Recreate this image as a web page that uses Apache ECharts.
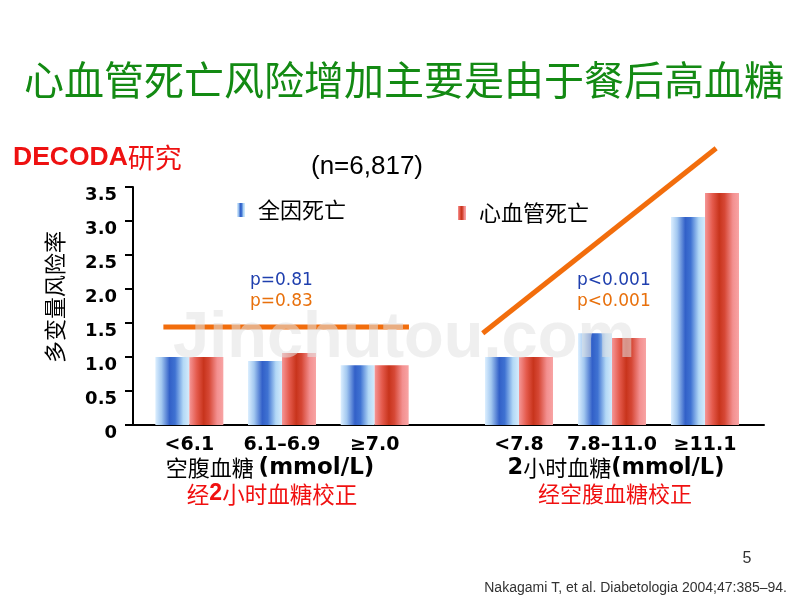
<!DOCTYPE html>
<html><head><meta charset="utf-8">
<script src="https://cdn.jsdelivr.net/npm/echarts@6/dist/echarts.min.js"></script>
<style>html,body{margin:0;padding:0;background:#fff}#c{width:800px;height:600px}</style>
</head><body><div id="c"></div>
<script>
// ---- data ----
const fastingCats = ['<6.1', '6.1–6.9', '≥7.0'];
const postloadCats = ['<7.8', '7.8–11.0', '≥11.1'];
const allCauseFasting = [1.0, 0.94, 0.88];
const cvdFasting = [1.0, 1.06, 0.88];
const allCausePostload = [1.0, 1.35, 3.06];
const cvdPostload = [1.0, 1.28, 3.41];
const yMin = 0, yMax = 3.5, yStep = 0.5;
// trend annotations, in category units (x) and hazard ratio (y)
const trendFasting = [[-0.28, 1.44], [2.37, 1.44]];
const trendPostload = [[-0.39, 1.35], [2.12, 4.07]];
const seriesNames = ['全因死亡', '心血管死亡'];

const chart = echarts.init(document.getElementById('c'), null, {renderer: 'canvas'});

const blueGrad = {type: 'linear', x: 0, y: 0, x2: 1, y2: 0, colorStops: [
  {offset: 0, color: '#dcefff'}, {offset: 0.18, color: '#a3c8f0'},
  {offset: 0.42, color: '#3260c8'}, {offset: 0.58, color: '#3f72d2'},
  {offset: 0.82, color: '#b2d8f6'}, {offset: 1, color: '#d4ebfb'}]};
const redGrad = {type: 'linear', x: 0, y: 0, x2: 1, y2: 0, colorStops: [
  {offset: 0, color: '#f59696'}, {offset: 0.22, color: '#e45a4c'},
  {offset: 0.42, color: '#c8341c'}, {offset: 0.58, color: '#d64836'},
  {offset: 0.82, color: '#f39090'}, {offset: 1, color: '#f8a4a4'}]};
const orange = '#f26d0c';

const catLabel = {fontSize: 19, fontWeight: 'bold', fontFamily: 'DejaVu Sans', color: '#000', margin: 11, interval: 0};
const hiddenY = (g) => ({gridIndex: g, type: 'value', min: yMin, max: yMax, interval: yStep, show: false});

function bar(name, data, xi, yi, color) {
  return {type: 'bar', name, data, xAxisIndex: xi, yAxisIndex: yi, barWidth: 34, barGap: '0%',
    itemStyle: {color}, emphasis: {disabled: true}};
}
function trend(data, xi, yi) {
  return {type: 'line', name: 'trend', data, xAxisIndex: xi, yAxisIndex: yi, showSymbol: false,
    symbol: 'none', clip: false, silent: true, z: 5,
    lineStyle: {color: orange, width: 5, cap: 'butt'}};
}
function txt(x, y, text, style, extra) {
  return Object.assign({type: 'text', x, y, silent: true,
    style: Object.assign({text, align: 'center', verticalAlign: 'middle', fill: '#000'}, style)}, extra || {});
}

const option = {
  animation: false,
  backgroundColor: '#fff',
  grid: [
    {left: 133, right: 36, top: 187, height: 238},
    {left: 143, width: 278, top: 187, height: 238},
    {left: 472.5, width: 279, top: 187, height: 238}
  ],
  xAxis: [
    {gridIndex: 0, type: 'category', data: [''], axisLine: {lineStyle: {color: '#000', width: 2}},
      axisTick: {show: false}, axisLabel: {show: false}},
    {gridIndex: 1, type: 'category', data: fastingCats, axisLine: {show: false}, axisTick: {show: false}, axisLabel: catLabel},
    {gridIndex: 1, type: 'value', min: -0.5, max: 2.5, show: false},
    {gridIndex: 2, type: 'category', data: postloadCats, axisLine: {show: false}, axisTick: {show: false}, axisLabel: catLabel},
    {gridIndex: 2, type: 'value', min: -0.5, max: 2.5, show: false}
  ],
  yAxis: [
    {gridIndex: 0, type: 'value', min: yMin, max: yMax, interval: yStep,
      axisLine: {show: true, lineStyle: {color: '#000', width: 2}},
      axisTick: {show: true, length: 8, lineStyle: {color: '#000', width: 2}},
      splitLine: {show: false},
      axisLabel: {fontSize: 18, fontWeight: 'bold', fontFamily: 'DejaVu Sans', color: '#000', margin: 16,
        verticalAlign: 'top', lineHeight: 16, formatter: v => v === 0 ? '0' : v.toFixed(1)}},
    hiddenY(1), hiddenY(2)
  ],
  legend: [
    {data: [seriesNames[0]], left: 237, top: 199, padding: 0, itemWidth: 8, itemHeight: 14, icon: 'rect',
      selectedMode: false,
      textStyle: {fontSize: 22, fontFamily: 'Noto Sans CJK SC', color: '#000', padding: [0, 0, 0, 8]}},
    {data: [seriesNames[1]], left: 458, top: 202, padding: 0, itemWidth: 8, itemHeight: 14, icon: 'rect',
      selectedMode: false,
      textStyle: {fontSize: 22, fontFamily: 'Noto Sans CJK SC', color: '#000', padding: [0, 0, 0, 8]}}
  ],
  series: [
    bar(seriesNames[0], allCauseFasting, 1, 1, blueGrad),
    bar(seriesNames[1], cvdFasting, 1, 1, redGrad),
    bar(seriesNames[0], allCausePostload, 3, 2, blueGrad),
    bar(seriesNames[1], cvdPostload, 3, 2, redGrad),
    trend(trendFasting, 2, 1),
    trend(trendPostload, 4, 2)
  ],
  graphic: [
    txt(404, 80, '心血管死亡风险增加主要是由于餐后高血糖',
      {fill: '#138a13', fontSize: 40, fontFamily: 'Noto Sans CJK SC', fontWeight: 'normal'}),
    txt(13, 158, '{a|DECODA}{b|研究}', {align: 'left', rich: {
      a: {fontSize: 26.5, fontWeight: 'bold', fontFamily: 'Liberation Sans', fill: '#ee1111', color: '#ee1111'},
      b: {fontSize: 27, fontFamily: 'Noto Sans CJK SC', fill: '#ee1111', color: '#ee1111'}}}),
    txt(367, 167, '(n=6,817)', {fontSize: 26, fontFamily: 'Liberation Sans'}),
    txt(55, 297, '多变量风险率', {fontSize: 22, fontFamily: 'Noto Sans CJK SC'}, {rotation: Math.PI / 2}),
    txt(250, 281, 'p=0.81', {align: 'left', fontSize: 17, fontFamily: 'DejaVu Sans', fill: '#1f3fae'}),
    txt(250, 302, 'p=0.83', {align: 'left', fontSize: 17, fontFamily: 'DejaVu Sans', fill: '#e8700c'}),
    txt(577, 281, 'p<0.001', {align: 'left', fontSize: 17, fontFamily: 'DejaVu Sans', fill: '#1f3fae'}),
    txt(577, 302, 'p<0.001', {align: 'left', fontSize: 17, fontFamily: 'DejaVu Sans', fill: '#e8700c'}),
    txt(270, 468, '{c|空腹血糖 }{l|(mmol/L)}', {rich: {
      c: {fontSize: 22, fontFamily: 'Noto Sans CJK SC', fill: '#000', color: '#000'},
      l: {fontSize: 23, fontWeight: 'bold', fontFamily: 'DejaVu Sans', fill: '#000', color: '#000'}}}),
    txt(616, 468, '{l|2}{c|小时血糖}{l|(mmol/L)}', {rich: {
      c: {fontSize: 22, fontFamily: 'Noto Sans CJK SC', fill: '#000', color: '#000'},
      l: {fontSize: 22.5, fontWeight: 'bold', fontFamily: 'DejaVu Sans', fill: '#000', color: '#000'}}}),
    txt(272, 494, '{c|经}{l|2}{c|小时血糖校正}', {rich: {
      c: {fontSize: 22.5, fontFamily: 'Noto Sans CJK SC', fill: '#f01010', color: '#f01010'},
      l: {fontSize: 23, fontWeight: 'bold', fontFamily: 'Liberation Sans', fill: '#f01010', color: '#f01010'}}}),
    txt(615, 494, '经空腹血糖校正', {fontSize: 22, fontFamily: 'Noto Sans CJK SC', fill: '#f01010'}),
    txt(747, 559, '5', {fontSize: 16, fontFamily: 'Liberation Sans', fill: '#333'}),
    txt(787, 588, 'Nakagami T, et al. Diabetologia 2004;47:385–94.',
      {align: 'right', fontSize: 14, fontFamily: 'Liberation Sans', fill: '#333'}),
    txt(173, 339, 'Jinchutou.com', {align: 'left', fontSize: 65, fontWeight: 'bold',
      fontFamily: 'Liberation Sans', fill: 'rgba(225,225,225,0.55)'}, {z: 100})
  ]
};
chart.setOption(option);
</script></body></html>
